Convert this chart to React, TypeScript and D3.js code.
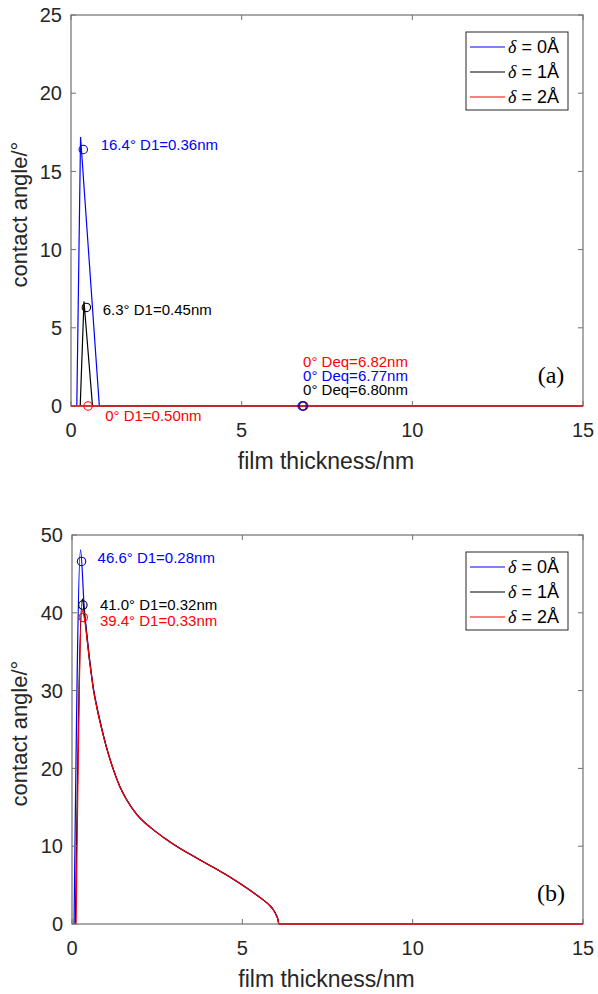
import React from 'react';
import * as d3 from 'd3';

// axis ticks
const xTicks = [0, 5, 10, 15];
const yTicksA = [0, 5, 10, 15, 20, 25];
const yTicksB = [0, 10, 20, 30, 40, 50];

const seriesColors = ['#0000ff', '#000000', '#ff0000'];
const legendLabels = ['0Å', '1Å', '2Å'];

// panel (a) curves, [thickness nm, angle deg]
const aBlue = [[0.17, 0], [0.28, 17.2], [0.83, 0], [15, 0]];
const aBlack = [[0.27, 0], [0.38, 6.7], [0.63, 0], [15, 0]];
const aRed = [[0, 0], [15, 0]];

// panel (b): the three curves share the same tail after the peak
const bBlueHead = [[0.06, 0], [0.25, 48.1], [0.36, 40.6], [0.45, 36.7], [0.51, 34.3], [0.57, 32.2], [0.63, 30.3], [0.72, 28.2], [0.82, 26.2]];
const bBlackHead = [[0.1, 0], [0.3, 41.8], [0.36, 40.0], [0.45, 36.4], [0.51, 34.0], [0.57, 32.0], [0.63, 30.1], [0.72, 28.0], [0.82, 26.0]];
const bRedHead = [[0.12, 0], [0.29, 40.3], [0.36, 39.4], [0.45, 36.3], [0.51, 34.0], [0.57, 32.0], [0.63, 30.1], [0.72, 28.0], [0.82, 26.0]];
const bTail = [[1.0, 22.9], [1.21, 19.9], [1.4, 17.7], [1.6, 16.0], [1.9, 14.1], [2.29, 12.45], [2.7, 11.1], [3.07, 10.0], [3.4, 9.12], [3.75, 8.25], [4.1, 7.4], [4.44, 6.55], [4.75, 5.72], [5.02, 4.95], [5.35, 3.95], [5.61, 3.1], [5.8, 2.4], [5.9, 1.9], [6.0, 1.1], [6.05, 0.5], [6.07, 0], [15, 0]];

// circle markers [x, y, series index]
const aMarks = [[0.36, 16.4, 0], [0.45, 6.3, 1], [0.5, 0, 2], [6.82, 0, 2], [6.8, 0, 1], [6.77, 0, 0]];
const bMarks = [[0.28, 46.6, 0], [0.32, 41.0, 1], [0.33, 39.4, 2]];

// annotations [text, x, y, series index]
const aNotes = [
  ['16.4° D1=0.36nm', 0.87, 16.4, 0],
  ['6.3° D1=0.45nm', 0.93, 5.82, 1],
  ['0° D1=0.50nm', 1.0, -0.96, 2],
  ['0° Deq=6.82nm', 6.8, 2.51, 2],
  ['0° Deq=6.77nm', 6.8, 1.62, 0],
  ['0° Deq=6.80nm', 6.8, 0.7, 1],
];
const bNotes = [
  ['46.6° D1=0.28nm', 0.75, 46.4, 0],
  ['41.0° D1=0.32nm', 0.82, 40.3, 1],
  ['39.4° D1=0.33nm', 0.82, 38.25, 2],
];

const sans = "Arial, 'Liberation Sans', sans-serif";
const serif = "'Times New Roman', 'Liberation Serif', serif";
const axisColor = '#262626';
const boxColor = '#707070';

const Panel = ({ box, yMax, yTicks, curves, marks, notes, tag, smooth }) => {
  const x = d3.scaleLinear().domain([0, 15]).range([box.l, box.r]);
  const y = d3.scaleLinear().domain([0, yMax]).range([box.b, box.t]);
  const line = d3.line().x((d) => x(d[0])).y((d) => y(d[1]));
  const curveLine = d3.line().x((d) => x(d[0])).y((d) => y(d[1])).curve(smooth ? d3.curveMonotoneX : d3.curveLinear);
  const tl = 5;
  const legX = 466;
  const legY = box.t + 17;
  const redTail = curves[2].slice(-2);

  return (
    <g>
      {/* curves */}
      {curves.map((c, i) => (
        <path key={i} d={curveLine(c)} fill="none" stroke={seriesColors[i]} strokeWidth={1.2} />
      ))}
      {/* box and ticks */}
      <rect x={box.l} y={box.t} width={box.r - box.l} height={box.b - box.t} fill="none" stroke={boxColor} strokeWidth={1.2} />
      {xTicks.map((t) => (
        <g key={'x' + t}>
          <line x1={x(t)} x2={x(t)} y1={box.b} y2={box.b - tl} stroke={boxColor} />
          <line x1={x(t)} x2={x(t)} y1={box.t} y2={box.t + tl} stroke={boxColor} />
          <text x={x(t)} y={box.b + 31} textAnchor="middle" fontSize={20} fontFamily={sans} fill={axisColor}>{t}</text>
        </g>
      ))}
      {yTicks.map((t) => (
        <g key={'y' + t}>
          <line x1={box.l} x2={box.l + tl} y1={y(t)} y2={y(t)} stroke={boxColor} />
          <line x1={box.r} x2={box.r - tl} y1={y(t)} y2={y(t)} stroke={boxColor} />
          <text x={box.l - 9} y={y(t)} dy="0.36em" textAnchor="end" fontSize={20} fontFamily={sans} fill={axisColor}>{t}</text>
        </g>
      ))}
      {/* red zero line sits over the box edge */}
      <path d={line(redTail)} stroke={seriesColors[2]} strokeWidth={1.2} fill="none" />
      {/* markers */}
      {marks.map((m, i) => (
        <circle key={i} cx={x(m[0])} cy={y(m[1])} r={4.2} fill="none" stroke={seriesColors[m[2]]} strokeWidth={1.1} />
      ))}
      {notes.map((n, i) => (
        <text key={i} x={x(n[1])} y={y(n[2])} fontSize={15} fontFamily={sans} fill={seriesColors[n[3]]}>{n[0]}</text>
      ))}
      {/* axis titles */}
      <text x={(box.l + box.r) / 2 - 1} y={box.b + 63} textAnchor="middle" fontSize={23} fontFamily={sans} fill={axisColor}>film thickness/nm</text>
      <text transform={`translate(27,${(box.t + box.b) / 2 + 4}) rotate(-90)`} textAnchor="middle" fontSize={22} fontFamily={sans} fill={axisColor}>contact angle/°</text>
      {/* panel tag */}
      <text x={551} y={box.b - 23} textAnchor="middle" fontSize={24} fontFamily={serif} fill="#000">{tag}</text>
      {/* legend */}
      <rect x={legX} y={legY} width={102} height={78} fill="#fff" stroke={axisColor} strokeWidth={1} />
      {legendLabels.map((lab, i) => (
        <g key={lab}>
          <line x1={legX + 4} x2={legX + 39} y1={legY + 15 + i * 25} y2={legY + 15 + i * 25} stroke={seriesColors[i]} strokeWidth={1.2} />
          <text x={legX + 42} y={legY + 15 + i * 25} dy="0.36em" fontSize={18} fontFamily={sans} fill="#000">
            <tspan fontFamily={serif} fontStyle="italic">δ</tspan> = {lab}
          </text>
        </g>
      ))}
    </g>
  );
};

export default function App() {
  const bCurves = [bBlueHead, bBlackHead, bRedHead].map((h) => h.concat(bTail));
  return (
    <svg width={598} height={994} style={{ position: 'absolute', left: 0, top: 0, background: '#fff' }}>
      <rect width={598} height={994} fill="#fff" />
      <Panel box={{ l: 71, r: 583, t: 15, b: 406 }} yMax={25} yTicks={yTicksA} curves={[aBlue, aBlack, aRed]} marks={aMarks} notes={aNotes} tag="(a)" smooth={false} />
      <Panel box={{ l: 72, r: 583, t: 535, b: 924 }} yMax={50} yTicks={yTicksB} curves={bCurves} marks={bMarks} notes={bNotes} tag="(b)" smooth={true} />
    </svg>
  );
}
